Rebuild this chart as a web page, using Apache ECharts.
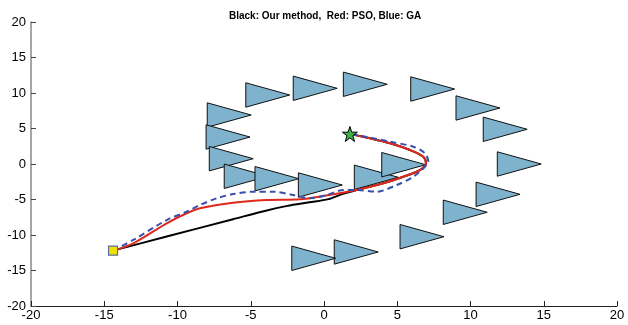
<!DOCTYPE html>
<html>
<head>
<meta charset="utf-8">
<script src="https://cdn.jsdelivr.net/npm/echarts@6/dist/echarts.min.js"></script>
<style>
  html, body { margin: 0; padding: 0; background: #fff; }
  #chart { width: 628px; height: 325px; }
</style>
</head>
<body>
<div id="chart"></div>
<script>
// axis ticks
const xTicks = [-20, -15, -10, -5, 0, 5, 10, 15, 20]
const yTicks = [-20, -15, -10, -5, 0, 5, 10, 15, 20]

// obstacles: [left edge x, centre y]
const obstacles = [
  [-5.34, 9.72], [-2.1, 10.66], [1.32, 11.23], [5.92, 10.56],
  [9.01, 7.89], [10.87, 4.89], [11.83, 0], [10.38, -4.27],
  [8.14, -6.8], [5.19, -10.24], [0.7, -12.39], [-2.2, -13.28],
  [-7.97, 6.9], [-8.05, 3.8], [-7.83, 0.75], [-6.81, -1.73],
  [-4.71, -2.07], [-1.75, -2.96], [2.07, -1.87], [3.94, -0.1]
]

const startPoint = [-14.4, -12.2]
const goalPoint = [1.77, 4.23]

// Our method (black)
const ourPath = [
  [-14.4, -12.2], [-10.74, -10.22], [-6.21, -7.78], [-3.91, -6.54],
  [-2.5, -5.9], [-1.0, -5.4], [0.3, -4.95], [1.3, -4.2],
  [2.23, -3.66], [4.05, -2.72], [5.41, -1.79], [6.55, -0.85],
  [6.96, 0.1], [6.78, 1.03], [5.87, 1.97], [4.51, 2.92],
  [3.14, 3.62], [1.77, 4.23]
]

// PSO (red)
const psoPath = [
  [-14.4, -12.2], [-13.02, -11.17], [-10.74, -8.35], [-9.37, -6.94],
  [-8.46, -6.24], [-6.21, -5.45], [-3.91, -5.07], [-1.64, -4.97],
  [-0.05, -4.51], [2.23, -3.66], [4.05, -2.72], [5.41, -1.79],
  [6.55, -0.85], [6.96, 0.1], [6.78, 1.03], [5.87, 1.97],
  [4.51, 2.92], [3.14, 3.62], [1.77, 4.23]
]

// GA (blue dashed)
const gaPath = [
  [-14.4, -12.2], [-13.02, -10.7], [-10.74, -7.89], [-9.37, -6.72],
  [-8.46, -5.77], [-7.32, -4.83], [-6.19, -4.23], [-4.83, -3.9],
  [-3.46, -3.9], [-2.1, -4.37], [-0.96, -4.83], [0.18, -4.37],
  [1.32, -3.66], [2.23, -3.66], [3.6, -3.9], [4.96, -2.96],
  [6.1, -1.79], [6.89, -0.38], [7.12, 0.32], [6.89, 1.51],
  [6.1, 2.44], [4.5, 3.14], [2.23, 4.08], [1.77, 4.23]
]

const font = 'Liberation Sans, Helvetica, Arial, sans-serif'
const chart = echarts.init(document.getElementById('chart'), null, { renderer: 'canvas' })

const starPath = 'path://M50,0 L61.8,35.4 L99,35.4 L69,57.3 L80.4,92.7 L50,70.8 L19.6,92.7 L31,57.3 L1,35.4 L38.2,35.4 Z'

const option = {
  animation: false,
  title: {
    text: 'Black: Our method,  Red: PSO, Blue: GA',
    left: 229,
    top: 11,
    padding: 0,
    textStyle: { fontFamily: font, fontSize: 10, fontWeight: 'bold', color: '#000' }
  },
  grid: { left: 31, right: 11, top: 22, bottom: 19 },
  xAxis: {
    type: 'value',
    min: xTicks[0],
    max: xTicks[xTicks.length - 1],
    interval: 5,
    splitLine: { show: false },
    axisLine: { onZero: false, lineStyle: { color: '#222', width: 1 } },
    axisTick: { inside: true, length: 5, lineStyle: { color: '#222' } },
    axisLabel: { color: '#000', fontFamily: font, fontSize: 13, margin: 3 }
  },
  yAxis: {
    type: 'value',
    min: yTicks[0],
    max: yTicks[yTicks.length - 1],
    interval: 5,
    splitLine: { show: false },
    axisLine: { onZero: false, lineStyle: { color: '#888', width: 1.5 } },
    axisTick: { inside: true, length: 5, lineStyle: { color: '#444' } },
    axisLabel: { color: '#000', fontFamily: font, fontSize: 13, margin: 5 }
  },
  series: [
    {
      type: 'custom',
      data: obstacles,
      z: 2,
      renderItem: function (params, api) {
        const x = api.value(0)
        const y = api.value(1)
        const p1 = api.coord([x, y + 1.72])
        const p2 = api.coord([x, y - 1.72])
        const p3 = api.coord([x + 3, y])
        return {
          type: 'polygon',
          shape: { points: [p1, p2, p3] },
          style: { fill: '#7fb2cd', stroke: '#111', lineWidth: 1 }
        }
      }
    },
    {
      type: 'line',
      data: ourPath,
      smooth: 0.3,
      showSymbol: false,
      z: 3,
      lineStyle: { color: '#000', width: 2 }
    },
    {
      type: 'line',
      data: psoPath,
      smooth: 0.3,
      showSymbol: false,
      z: 4,
      lineStyle: { color: '#e0291d', width: 2 }
    },
    {
      type: 'line',
      data: gaPath,
      smooth: 0.3,
      showSymbol: false,
      z: 5,
      lineStyle: { color: '#3a4fad', width: 2, type: [6, 4] }
    },
    {
      type: 'scatter',
      data: [startPoint],
      symbol: 'rect',
      symbolSize: 9,
      z: 6,
      itemStyle: { color: '#f0e000', borderColor: '#5a6ea5', borderWidth: 1.2, opacity: 1 }
    },
    {
      type: 'scatter',
      data: [goalPoint],
      symbol: starPath,
      symbolSize: 15,
      z: 6,
      itemStyle: { color: '#3fb04a', borderColor: '#000', borderWidth: 1, opacity: 1 }
    }
  ]
}

chart.setOption(option)
</script>
</body>
</html>
